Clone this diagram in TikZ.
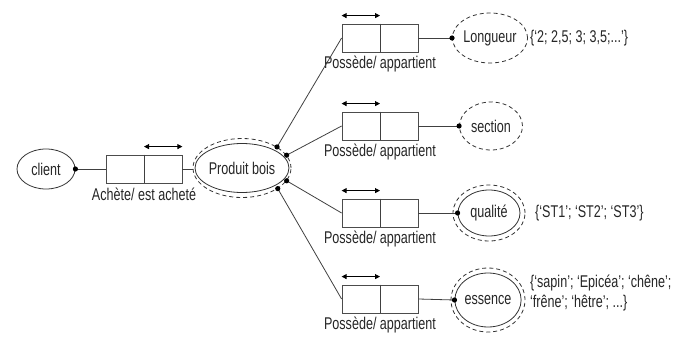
\documentclass[tikz,border=0pt]{standalone}
\usepackage{fontspec}
\setmainfont{Liberation Sans}[FakeStretch=0.74]
\usetikzlibrary{shapes.geometric,arrows.meta}
\begin{document}
\begin{tikzpicture}[x=1pt,y=-1pt,
  font=\fontsize{17}{20.5}\selectfont,
  every node/.style={text=black!85},
  ent/.style={ellipse, draw=black!80, line width=0.8pt, inner sep=0pt},
  outer/.style={ellipse, draw=black!80, line width=0.8pt, inner sep=0pt, dash pattern=on 4pt off 3pt},
  rel/.style={rectangle, draw=black!70, line width=0.8pt, inner sep=0pt, minimum width=76pt, minimum height=28pt},
  conn/.style={draw=black!75, line width=0.8pt},
  dbl/.style={line width=0.9pt, arrows={Triangle[length=5pt,width=5pt]-Triangle[length=5pt,width=5pt]}},
  lbl/.style={anchor=base, inner sep=0pt}
]
\useasboundingbox (0,0) rectangle (689,337);

% entities
\node[ent, minimum width=58pt, minimum height=40pt] (client) at (46,169) {client};
\node[ent, minimum width=89pt, minimum height=49pt] (pb) at (242,168) {Produit bois};
\node[outer, minimum width=98pt, minimum height=59pt] (pbo) at (242,168) {};

\node[outer, minimum width=75pt, minimum height=50pt] (lon) at (490,38) {Longueur};
\node[outer, minimum width=63pt, minimum height=48pt] (sec) at (491,126) {section};
\node[ent, minimum width=62pt, minimum height=46pt] (qual) at (489,213) {qualité};
\node[outer, minimum width=72pt, minimum height=56pt] (qualo) at (489,213) {};
\node[ent, minimum width=66pt, minimum height=54pt] (ess) at (488,300) {essence};
\node[outer, minimum width=74pt, minimum height=64pt] (esso) at (488,300) {};

% relationships
\node[rel] (r1) at (144,169) {};
\node[rel] (r2) at (380,38) {};
\node[rel] (r3) at (380,126) {};
\node[rel] (r4) at (380,213) {};
\node[rel] (r5) at (380,299) {};

\draw[conn] (r1.north) -- (r1.south);
\draw[dbl] ([yshift=8pt]r1.north) -- ([yshift=8pt]r1.north east);
\node[lbl] (l1) at ([yshift=-17pt]r1.south) {Achète/ est acheté};

\foreach \r in {r2,r3,r4,r5}{
  \draw[conn] (\r.north) -- (\r.south);
  \draw[dbl] ([yshift=8pt]\r.north west) -- ([yshift=8pt]\r.north);
  \node[lbl] at ([yshift=-16pt]\r.south) {Possède/ appartient};
}

% domains
\node[anchor=west, inner sep=0pt] (d1) at (530,38) {\{‘2; 2,5; 3; 3,5;...’\}};
\node[anchor=west, inner sep=0pt] (d3) at (535,213) {\{‘ST1’; ‘ST2’; ‘ST3’\}};
\node[anchor=west, inner sep=0pt, align=left] (d4) at (530,293) {\{‘sapin’; ‘Epicéa’; ‘chêne’;\\‘frêne’; ‘hêtre’; ...\}};

% connectors
\draw[conn] (client.east) -- (r1.west);
\draw[conn] (r1.east) -- (r1.east -| pbo.west);
\draw[conn] (pbo.31) -- (r2.west);
\draw[conn] (pbo.16) -- (r3.west);
\draw[conn] (pbo.-16) -- (r4.west);
\draw[conn] (pbo.-30) -- (r5.west);
\draw[conn] (r2.east) -- (lon.west);
\draw[conn] (r3.east) -- (sec.west);
\draw[conn] (r4.east) -- (qual.west);
\draw[conn] (r5.east) -- (ess.west);

% dots
\foreach \p in {client.east, pbo.31, pbo.16, pbo.-16, pbo.-30, lon.west, sec.west, qual.west, ess.west}{
  \fill[black] (\p) circle (2.6);
}
\end{tikzpicture}
\end{document}
